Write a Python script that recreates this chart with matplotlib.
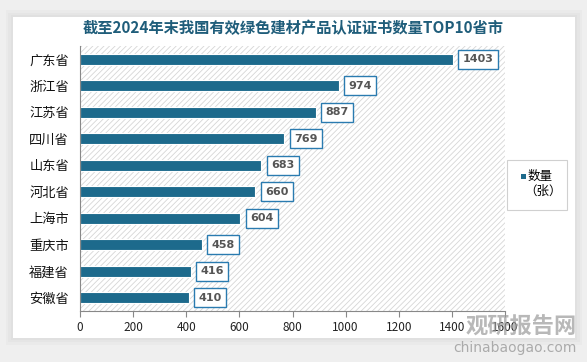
import matplotlib.pyplot as plt
from matplotlib.patches import Rectangle

plt.rcParams['font.family'] = ['Noto Sans CJK SC', 'DejaVu Sans']
plt.rcParams['hatch.linewidth'] = 0.6

provinces = ['广东省', '浙江省', '江苏省', '四川省', '山东省', '河北省', '上海市', '重庆市', '福建省', '安徽省']
counts = [1403, 974, 887, 769, 683, 660, 604, 458, 416, 410]
xticks = [0, 200, 400, 600, 800, 1000, 1200, 1400, 1600]

bar_color = '#1d6a8c'

fig = plt.figure(figsize=(5.87, 3.62), dpi=100)
fig.patch.set_facecolor('#efefef')

# white card with soft shadow
for i, a in enumerate([0.05, 0.05, 0.06]):
    fig.patches.append(Rectangle((13/587 - 0.004*(3-i), 1 - 338/362 - 0.006*(3-i)),
                                 562/587 + 0.008*(3-i), 321/362 + 0.012*(3-i),
                                 transform=fig.transFigure, facecolor='#9a9a9a',
                                 alpha=a, edgecolor='none', zorder=0))
fig.patches.append(Rectangle((13/587, 1 - 338/362), 562/587, 321/362,
                             transform=fig.transFigure, facecolor='white',
                             edgecolor='none', zorder=0.5))

ax = fig.add_axes([80/587, 1 - 311/362, 425/587, 265/362])
ax.set_zorder(2)
ax.set_facecolor('none')
# hatched plot area
ax.add_patch(Rectangle((0, 0), 1, 1, transform=ax.transAxes, facecolor='white',
                       edgecolor='#d6d6d6', linewidth=0, hatch='//////', zorder=0))

y = list(range(len(provinces)))
ax.barh(y, counts, height=0.42, color=bar_color, edgecolor='white', linewidth=0.8, zorder=2)
ax.set_ylim(len(provinces) - 0.5, -0.5)
ax.set_xlim(0, 1600)
ax.set_xticks(xticks)
ax.set_yticks(y)
ax.set_yticklabels(provinces, fontsize=9.5, color='#111111')
ax.tick_params(axis='x', labelsize=8.5, colors='#222222', length=4, color='#888888')
ax.tick_params(axis='y', length=0, pad=8)

for s in ['top', 'right']:
    ax.spines[s].set_visible(False)
for s in ['left', 'bottom']:
    ax.spines[s].set_color('#888888')
    ax.spines[s].set_linewidth(0.8)

for yi, v in zip(y, counts):
    ax.annotate(str(v), (v, yi), xytext=(7, 0), textcoords='offset points',
                ha='left', va='center', fontsize=8, fontweight='bold', color='#555555',
                family=['DejaVu Sans'],
                bbox=dict(boxstyle='square,pad=0.4', facecolor='white',
                          edgecolor='#2a7bb0', linewidth=1.0),
                zorder=3)

fig.text(0.5, 1 - 28/362, '截至2024年末我国有效绿色建材产品认证证书数量TOP10省市',
         ha='center', va='center', fontsize=11, fontweight='bold', color='#1f5d7a', zorder=5)

# legend box
fig.patches.append(Rectangle((507/587, 1 - 210/362), 60/587, 50/362,
                             transform=fig.transFigure, facecolor='white',
                             edgecolor='#d0d0d0', linewidth=0.8, zorder=3))
fig.patches.append(Rectangle((521/587, 1 - 179/362), 5/587, 5/362,
                             transform=fig.transFigure, facecolor=bar_color,
                             edgecolor='none', zorder=4))
fig.text(528/587, 1 - 176/362, '数量', fontsize=9, va='center', ha='left', zorder=5)
fig.text(524/587, 1 - 191/362, '（张）', fontsize=9, va='center', ha='left', zorder=5)

# watermark
fig.text(577/587, 1 - 327/362, '观研报告网', fontsize=16, fontweight='bold',
         color='#9a9a9a', alpha=0.7, ha='right', va='center', zorder=6)
fig.text(577/587, 1 - 348/362, 'chinabaogao.com', fontsize=10,
         color='#9a9a9a', alpha=0.8, ha='right', va='center', family=['DejaVu Sans'], zorder=6)

fig.savefig('out.png', dpi=100, facecolor=fig.get_facecolor())
